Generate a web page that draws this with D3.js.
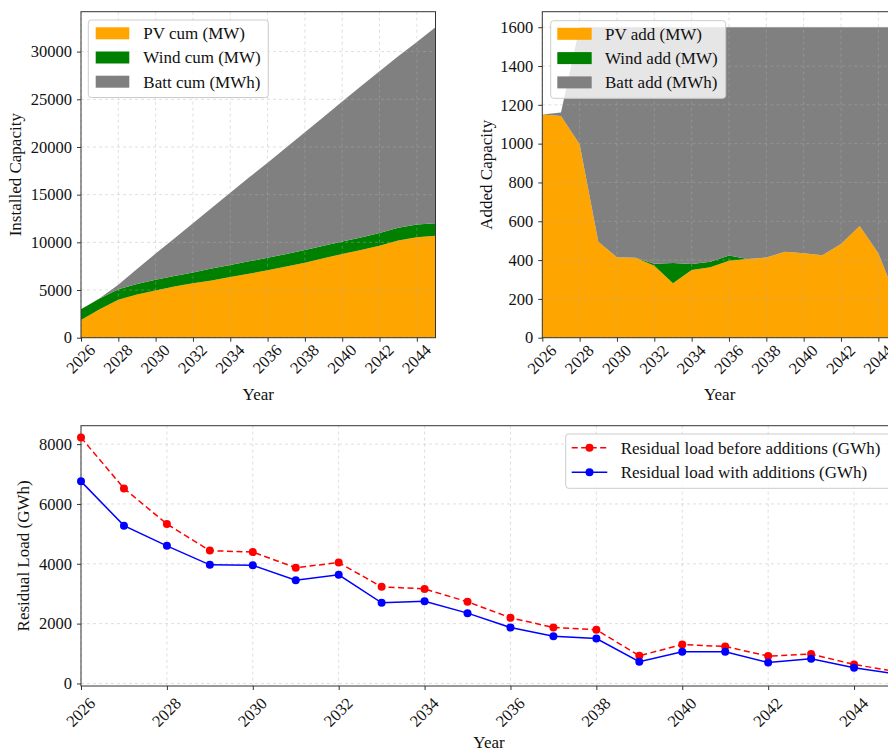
<!DOCTYPE html>
<html><head><meta charset="utf-8">
<script src="https://cdn.jsdelivr.net/npm/d3@7"></script>
<style>
body{margin:0;background:#fff;}
svg{display:block;overflow:hidden;}
text{font-family:"Liberation Serif","Times New Roman",serif;fill:#111;}
</style>
</head><body>
<svg id="c" width="888" height="751"></svg>
<script>
// ---------------- DATA ----------------
const years = [2026,2027,2028,2029,2030,2031,2032,2033,2034,2035,2036,2037,2038,2039,2040,2041,2042,2043,2044,2045];
const xTickYears = [2026,2028,2030,2032,2034,2036,2038,2040,2042,2044];

const pvCum   = [1860,2990,3970,4520,4960,5360,5720,6010,6360,6710,7060,7460,7870,8320,8770,9200,9650,10200,10540,10680];
const windCum = [1120,1120,1120,1120,1120,1120,1130,1235,1265,1295,1320,1320,1320,1320,1320,1320,1320,1320,1320,1320];
const battCum = [0,17,450,1555,2741,3929,5148,6363,7583,8791,9968,11162,12349,13506,14671,15846,16963,17987,19152,20557];

const pvAdd   = [1150,1143,997,495,414,412,371,280,349,363,397,406,413,443,435,425,483,576,435,195];
const windAdd = [0,0,0,0,0,0,10,105,31,29,26,0,0,0,0,0,0,0,0,0];
const battAdd = [0,17,603,1105,1186,1188,1219,1215,1220,1208,1177,1194,1187,1157,1165,1175,1117,1024,1165,1405];

const resBefore = [8220,6520,5330,4440,4390,3870,4040,3230,3160,2730,2195,1870,1795,925,1300,1235,915,980,635,390];
const resWith   = [6755,5275,4600,3965,3950,3450,3630,2695,2750,2350,1870,1580,1500,725,1060,1060,700,825,525,310];

const cumTicks = [0,5000,10000,15000,20000,25000,30000];
const addTicks = [0,200,400,600,800,1000,1200,1400,1600];
const resTicks = [0,2000,4000,6000,8000];

const cumLabels = ["PV cum (MW)","Wind cum (MW)","Batt cum (MWh)"];
const addLabels = ["PV add (MW)","Wind add (MW)","Batt add (MWh)"];
const resLabels = ["Residual load before additions (GWh)","Residual load with additions (GWh)"];
const stackColors = ["#FFA500","#008000","#808080"];
const lineColors = ["#ff0000","#0000ff"];

// ---------------- DRAWING ----------------
const svg = d3.select("#c");
const TICK_FS = 16.5, LAB_FS = 17, LEG_FS = 17;
const SPINE = "#333";

function makeAxes(cfg){
  const x = d3.scaleLinear().domain([years[0], years[years.length-1]]).range([cfg.x0, cfg.x1]);
  const y = d3.scaleLinear().domain(cfg.yDomain).range([cfg.y1, cfg.y0]);
  const g = svg.append("g");
  return {x, y, g};
}

function decorate(ax, cfg){
  const {x, y, g} = ax;
  const grid = g.append("g").attr("stroke","#b0b0b0").attr("stroke-opacity",0.5)
    .attr("stroke-width",0.8).attr("stroke-dasharray","3,3");
  grid.selectAll("line.v").data(xTickYears).join("line")
    .attr("x1",d=>x(d)).attr("x2",d=>x(d)).attr("y1",cfg.y0).attr("y2",cfg.y1);
  grid.selectAll("line.h").data(cfg.yTicks).join("line")
    .attr("y1",d=>y(d)).attr("y2",d=>y(d)).attr("x1",cfg.x0).attr("x2",cfg.x1);
  g.append("rect").attr("x",cfg.x0).attr("y",cfg.y0)
    .attr("width",cfg.x1-cfg.x0).attr("height",cfg.y1-cfg.y0)
    .attr("fill","none").attr("stroke",SPINE).attr("stroke-width",1);
  const xa = g.append("g").attr("transform",`translate(0,${cfg.y1})`)
    .call(d3.axisBottom(x).tickValues(xTickYears).tickSize(4).tickFormat(d3.format("d")));
  xa.select(".domain").remove();
  xa.selectAll("line").attr("stroke",SPINE);
  xa.attr("font-family",null).attr("font-size",null);
  xa.selectAll("text").attr("font-size",TICK_FS).attr("fill","#111")
    .attr("text-anchor","middle").attr("y",0).attr("dy","0.35em")
    .attr("transform",`translate(-1,${cfg.xLabOff}) rotate(-45)`);
  const ya = g.append("g").attr("transform",`translate(${cfg.x0},0)`)
    .call(d3.axisLeft(y).tickValues(cfg.yTicks).tickSize(4).tickPadding(5).tickFormat(d3.format("d")));
  ya.select(".domain").remove();
  ya.selectAll("line").attr("stroke",SPINE);
  ya.attr("font-family",null).attr("font-size",null);
  ya.selectAll("text").attr("font-size",TICK_FS).attr("fill","#111");
  g.append("text").attr("x",(cfg.x0+cfg.x1)/2).attr("y",cfg.xTitleY)
    .attr("text-anchor","middle").attr("font-size",LAB_FS).text("Year");
  g.append("text").attr("transform",`translate(${cfg.yTitleX},${(cfg.y0+cfg.y1)/2}) rotate(-90)`)
    .attr("text-anchor","middle").attr("dy","0.35em").attr("font-size",LAB_FS).text(cfg.ylabel);
}

function patchLegend(g, box, labels, colors){
  const lg = g.append("g");
  lg.append("rect").attr("x",box.x).attr("y",box.y).attr("width",box.w).attr("height",box.h)
    .attr("rx",3).attr("fill","#fff").attr("fill-opacity",0.8).attr("stroke","#cccccc").attr("stroke-width",1);
  labels.forEach((lab,i)=>{
    const cy = box.row0 + i*box.dy;
    lg.append("rect").attr("x",box.px).attr("y",cy-6).attr("width",box.pw).attr("height",12).attr("fill",colors[i]);
    lg.append("text").attr("x",box.tx).attr("y",cy).attr("dy","0.35em").attr("font-size",LEG_FS).text(lab);
  });
}

function stackPanel(cfg, series, labels){
  const rows = years.map((yr,i)=>({year:yr, a:series[0][i], b:series[1][i], c:series[2][i]}));
  const stacked = d3.stack().keys(["a","b","c"])(rows);
  const maxTop = d3.max(stacked[2], d=>d[1]);
  cfg.yDomain = [0, maxTop*1.05];
  const ax = makeAxes(cfg);
  const clipId = "clip"+cfg.id;
  svg.append("clipPath").attr("id",clipId).append("rect")
    .attr("x",cfg.x0).attr("y",cfg.y0).attr("width",cfg.x1-cfg.x0).attr("height",cfg.y1-cfg.y0);
  const area = d3.area().x(d=>ax.x(d.data.year)).y0(d=>ax.y(d[0])).y1(d=>ax.y(d[1]));
  ax.g.append("g").attr("clip-path",`url(#${clipId})`).selectAll("path").data(stacked).join("path")
    .attr("d",area).attr("fill",(d,i)=>stackColors[i]);
  decorate(ax, cfg);
  patchLegend(ax.g, cfg.legend, labels, stackColors);
}

stackPanel({id:"a", x0:81, x1:435.5, y0:11.7, y1:337.7, yTicks:cumTicks, xLabOff:21, xTitleY:400,
  yTitleX:15, ylabel:"Installed Capacity",
  legend:{x:88.3,y:20,w:180,h:77.5,px:95.7,pw:33.6,tx:143.3,row0:33.3,dy:24.2}},
  [pvCum, windCum, battCum], cumLabels);

stackPanel({id:"b", x0:542.3, x1:897, y0:11.7, y1:337.7, yTicks:addTicks, xLabOff:21.5, xTitleY:400,
  yTitleX:486, ylabel:"Added Capacity",
  legend:{x:550.7,y:20.7,w:175,h:77.6,px:557.3,pw:34.4,tx:605,row0:33.8,dy:24.3}},
  [pvAdd, windAdd, battAdd], addLabels);

(function(){
  const lo = d3.min(resWith), hi = d3.max(resBefore), pad = (hi-lo)*0.05;
  const cfg = {x0:81, x1:897, y0:425.7, y1:686, yTicks:resTicks, xLabOff:26, xTitleY:748,
    yTitleX:23.5, ylabel:"Residual Load (GWh)", yDomain:[lo-pad, hi+pad]};
  const ax = makeAxes(cfg);
  decorate(ax, cfg);
  const series = [resBefore, resWith];
  const dashes = ["6,3.5", null];
  const line = d3.line().x((d,i)=>ax.x(years[i])).y(d=>ax.y(d));
  series.forEach((s,k)=>{
    ax.g.append("path").datum(s).attr("d",line).attr("fill","none")
      .attr("stroke",lineColors[k]).attr("stroke-width",1.5)
      .attr("stroke-dasharray",dashes[k]);
    ax.g.append("g").selectAll("circle").data(s).join("circle")
      .attr("cx",(d,i)=>ax.x(years[i])).attr("cy",d=>ax.y(d)).attr("r",4)
      .attr("fill",lineColors[k]);
  });
  const lg = ax.g.append("g");
  lg.append("rect").attr("x",565.7).attr("y",434).attr("width",326).attr("height",54.3)
    .attr("rx",3).attr("fill","#fff").attr("fill-opacity",0.8).attr("stroke","#cccccc");
  resLabels.forEach((lab,k)=>{
    const cy = 447.7 + k*24.6;
    lg.append("line").attr("x1",571.7).attr("x2",607.3).attr("y1",cy).attr("y2",cy)
      .attr("stroke",lineColors[k]).attr("stroke-width",1.5).attr("stroke-dasharray",dashes[k]);
    lg.append("circle").attr("cx",589.5).attr("cy",cy).attr("r",4).attr("fill",lineColors[k]);
    lg.append("text").attr("x",620.7).attr("y",cy).attr("dy","0.35em").attr("font-size",LEG_FS).text(lab);
  });
})();
</script>
</body></html>
